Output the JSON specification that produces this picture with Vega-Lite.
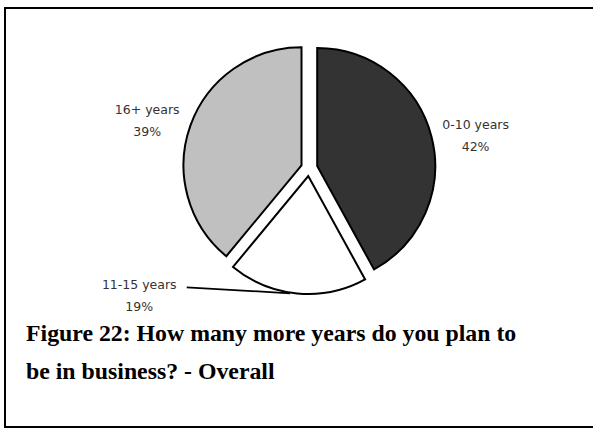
{
  "$schema": "https://vega.github.io/schema/vega-lite/v6.json",
  "width": 592,
  "height": 419,
  "autosize": {"type": "none"},
  "padding": {"left": 5, "top": 8, "right": 0, "bottom": 1},
  "background": "white",
  "view": {"stroke": "#000000", "strokeWidth": 2, "fill": "white"},
  "config": {"view": {"stroke": "#000000", "strokeWidth": 2}},
  "title": {
    "text": ["Figure 22: How many more years do you plan to", "be in business? - Overall"],
    "orient": "bottom",
    "anchor": "start",
    "frame": "group",
    "offset": -86,
    "dx": 21,
    "baseline": "alphabetic",
    "font": "Liberation Serif",
    "fontSize": 23.8,
    "fontWeight": "bold",
    "color": "#000000",
    "lineHeight": 38
  },
  "data": {
    "values": [
      {"category": "0-10 years", "pct": 42},
      {"category": "11-15 years", "pct": 19},
      {"category": "16+ years", "pct": 39}
    ]
  },
  "transform": [
    {"stack": "pct", "groupby": [], "sort": [{"field": "category", "order": "ascending"}], "as": ["t0", "t1"]},
    {"calculate": "[datum.category, datum.pct + '%']", "as": "label"}
  ],
  "layer": [
    {
      "transform": [{"filter": "datum.category == '0-10 years'"}],
      "mark": {"type": "arc", "radius": 118, "fill": "#333333", "stroke": "#000000", "strokeWidth": 2, "xOffset": 16.2, "yOffset": -51.5},
      "encoding": {
        "theta": {"field": "t0", "type": "quantitative", "scale": {"domain": [0, 100]}},
        "theta2": {"field": "t1"}
      }
    },
    {
      "transform": [{"filter": "datum.category == '11-15 years'"}],
      "mark": {"type": "arc", "radius": 118, "fill": "#ffffff", "stroke": "#000000", "strokeWidth": 2, "xOffset": 7.25, "yOffset": -41.5},
      "encoding": {
        "theta": {"field": "t0", "type": "quantitative", "scale": {"domain": [0, 100]}},
        "theta2": {"field": "t1"}
      }
    },
    {
      "transform": [{"filter": "datum.category == '16+ years'"}],
      "mark": {"type": "arc", "radius": 118, "fill": "#c0c0c0", "stroke": "#000000", "strokeWidth": 2, "xOffset": 0.5, "yOffset": -52.2},
      "encoding": {
        "theta": {"field": "t0", "type": "quantitative", "scale": {"domain": [0, 100]}},
        "theta2": {"field": "t1"}
      }
    },
    {
      "mark": {"type": "text", "radius": 172, "xOffset": 8, "yOffset": -49.5, "font": "DejaVu Sans", "fontSize": 12.5, "fill": "#333333", "lineHeight": 22, "baseline": "middle", "align": "center"},
      "encoding": {
        "theta": {"field": "pct", "type": "quantitative", "stack": true, "scale": {"domain": [0, 100]}},
        "text": {"condition": {"test": "datum.category == '11-15 years'", "value": ""}, "field": "label"}
      }
    },
    {
      "transform": [{"filter": "datum.category == '11-15 years'"}],
      "mark": {"type": "text", "radius": 206, "thetaOffset": 0.2775, "xOffset": 8, "yOffset": -49.5, "font": "DejaVu Sans", "fontSize": 12.5, "fill": "#333333", "lineHeight": 22, "baseline": "middle", "align": "center"},
      "encoding": {
        "theta": {"field": "t1", "type": "quantitative", "scale": {"domain": [0, 100]}},
        "text": {"field": "label"}
      }
    },
    {
      "transform": [{"filter": "datum.category == '11-15 years'"}],
      "mark": {"type": "rule", "stroke": "#000000", "strokeWidth": 1.8},
      "encoding": {
        "x": {"value": {"expr": "width/2 + 8 - 122.3"}},
        "y": {"value": {"expr": "height/2 - 49.5 + 119.3"}},
        "x2": {"value": {"expr": "width/2 + 8 - 19"}},
        "y2": {"value": {"expr": "height/2 - 49.5 + 125.3"}}
      }
    }
  ]
}
